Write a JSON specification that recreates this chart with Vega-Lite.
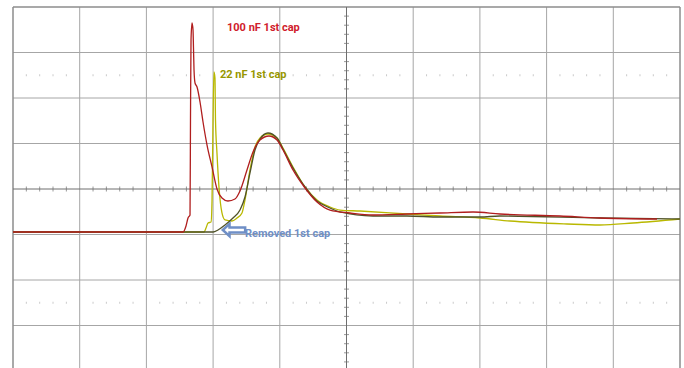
{
  "$schema": "https://vega.github.io/schema/vega-lite/v6.json",
  "width": 667,
  "height": 361,
  "autosize": {"type": "none"},
  "padding": {"left": 13, "top": 7, "right": 4, "bottom": 0},
  "background": "white",
  "config": {"view": {"stroke": null}},
  "datasets": {
    "vgrid": [{"t": 1}, {"t": 2}, {"t": 3}, {"t": 4}, {"t": 6}, {"t": 7}, {"t": 8}, {"t": 9}],
    "hgrid": [{"v": 3}, {"v": 2}, {"v": 1}, {"v": -1}, {"v": -2}, {"v": -3}],
    "xminor": [
      {"t": 0.2}, {"t": 0.4}, {"t": 0.6}, {"t": 0.8}, {"t": 1.2}, {"t": 1.4}, {"t": 1.6}, {"t": 1.8},
      {"t": 2.2}, {"t": 2.4}, {"t": 2.6}, {"t": 2.8}, {"t": 3.2}, {"t": 3.4}, {"t": 3.6}, {"t": 3.8},
      {"t": 4.2}, {"t": 4.4}, {"t": 4.6}, {"t": 4.8}, {"t": 5.2}, {"t": 5.4}, {"t": 5.6}, {"t": 5.8},
      {"t": 6.2}, {"t": 6.4}, {"t": 6.6}, {"t": 6.8}, {"t": 7.2}, {"t": 7.4}, {"t": 7.6}, {"t": 7.8},
      {"t": 8.2}, {"t": 8.4}, {"t": 8.6}, {"t": 8.8}, {"t": 9.2}, {"t": 9.4}, {"t": 9.6}, {"t": 9.8}
    ],
    "yminor": [
      {"v": 3.8}, {"v": 3.6}, {"v": 3.4}, {"v": 3.2}, {"v": 2.8}, {"v": 2.6}, {"v": 2.4}, {"v": 2.2},
      {"v": 1.8}, {"v": 1.6}, {"v": 1.4}, {"v": 1.2}, {"v": 0.8}, {"v": 0.6}, {"v": 0.4}, {"v": 0.2},
      {"v": -0.2}, {"v": -0.4}, {"v": -0.6}, {"v": -0.8}, {"v": -1.2}, {"v": -1.4}, {"v": -1.6}, {"v": -1.8},
      {"v": -2.2}, {"v": -2.4}, {"v": -2.6}, {"v": -2.8}, {"v": -3.2}, {"v": -3.4}, {"v": -3.6}, {"v": -3.8}
    ],
    "labels": [
      {"text": "100 nF 1st cap", "trace": "100 nF", "t": 3.208, "v": 3.538},
      {"text": "22 nF 1st cap", "trace": "22 nF", "t": 3.103, "v": 2.505},
      {"text": "Removed 1st cap", "trace": "removed", "t": 3.478, "v": -0.989}
    ],
    "traces": [
      {"trace": "22 nF", "t": 0, "v": -0.945},
      {"trace": "22 nF", "t": 2.864, "v": -0.945},
      {"trace": "22 nF", "t": 2.894, "v": -0.857},
      {"trace": "22 nF", "t": 2.924, "v": -0.747},
      {"trace": "22 nF", "t": 2.969, "v": -0.725},
      {"trace": "22 nF", "t": 2.984, "v": -0.242},
      {"trace": "22 nF", "t": 2.999, "v": 1.516},
      {"trace": "22 nF", "t": 3.013, "v": 2.571},
      {"trace": "22 nF", "t": 3.028, "v": 2.44},
      {"trace": "22 nF", "t": 3.036, "v": 1.516},
      {"trace": "22 nF", "t": 3.058, "v": 0.791},
      {"trace": "22 nF", "t": 3.088, "v": 0.044},
      {"trace": "22 nF", "t": 3.133, "v": -0.527},
      {"trace": "22 nF", "t": 3.178, "v": -0.681},
      {"trace": "22 nF", "t": 3.283, "v": -0.703},
      {"trace": "22 nF", "t": 3.358, "v": -0.637},
      {"trace": "22 nF", "t": 3.433, "v": -0.527},
      {"trace": "22 nF", "t": 3.478, "v": -0.242},
      {"trace": "22 nF", "t": 3.553, "v": 0.418},
      {"trace": "22 nF", "t": 3.628, "v": 0.923},
      {"trace": "22 nF", "t": 3.703, "v": 1.121},
      {"trace": "22 nF", "t": 3.823, "v": 1.209},
      {"trace": "22 nF", "t": 3.958, "v": 1.121},
      {"trace": "22 nF", "t": 4.048, "v": 0.901},
      {"trace": "22 nF", "t": 4.198, "v": 0.484},
      {"trace": "22 nF", "t": 4.378, "v": 0.044},
      {"trace": "22 nF", "t": 4.558, "v": -0.242},
      {"trace": "22 nF", "t": 4.753, "v": -0.396},
      {"trace": "22 nF", "t": 4.903, "v": -0.462},
      {"trace": "22 nF", "t": 5.202, "v": -0.484},
      {"trace": "22 nF", "t": 5.907, "v": -0.549},
      {"trace": "22 nF", "t": 6.402, "v": -0.593},
      {"trace": "22 nF", "t": 7.001, "v": -0.637},
      {"trace": "22 nF", "t": 7.451, "v": -0.703},
      {"trace": "22 nF", "t": 8.306, "v": -0.769},
      {"trace": "22 nF", "t": 8.801, "v": -0.791},
      {"trace": "22 nF", "t": 9.295, "v": -0.747},
      {"trace": "22 nF", "t": 10, "v": -0.659},

      {"trace": "removed", "t": 0, "v": -0.945},
      {"trace": "removed", "t": 2.999, "v": -0.945},
      {"trace": "removed", "t": 3.073, "v": -0.901},
      {"trace": "removed", "t": 3.178, "v": -0.791},
      {"trace": "removed", "t": 3.298, "v": -0.637},
      {"trace": "removed", "t": 3.403, "v": -0.462},
      {"trace": "removed", "t": 3.478, "v": -0.176},
      {"trace": "removed", "t": 3.553, "v": 0.352},
      {"trace": "removed", "t": 3.628, "v": 0.857},
      {"trace": "removed", "t": 3.703, "v": 1.099},
      {"trace": "removed", "t": 3.823, "v": 1.231},
      {"trace": "removed", "t": 3.958, "v": 1.121},
      {"trace": "removed", "t": 4.048, "v": 0.879},
      {"trace": "removed", "t": 4.198, "v": 0.462},
      {"trace": "removed", "t": 4.378, "v": 0.044},
      {"trace": "removed", "t": 4.558, "v": -0.264},
      {"trace": "removed", "t": 4.753, "v": -0.418},
      {"trace": "removed", "t": 4.903, "v": -0.505},
      {"trace": "removed", "t": 5.397, "v": -0.593},
      {"trace": "removed", "t": 5.907, "v": -0.593},
      {"trace": "removed", "t": 6.402, "v": -0.615},
      {"trace": "removed", "t": 7.001, "v": -0.615},
      {"trace": "removed", "t": 7.301, "v": -0.593},
      {"trace": "removed", "t": 8.801, "v": -0.637},
      {"trace": "removed", "t": 10, "v": -0.659},

      {"trace": "100 nF", "t": 0, "v": -0.945},
      {"trace": "100 nF", "t": 2.549, "v": -0.945},
      {"trace": "100 nF", "t": 2.594, "v": -0.813},
      {"trace": "100 nF", "t": 2.624, "v": -0.637},
      {"trace": "100 nF", "t": 2.654, "v": -0.571},
      {"trace": "100 nF", "t": 2.661, "v": 1.516},
      {"trace": "100 nF", "t": 2.669, "v": 3.275},
      {"trace": "100 nF", "t": 2.684, "v": 3.648},
      {"trace": "100 nF", "t": 2.699, "v": 3.495},
      {"trace": "100 nF", "t": 2.706, "v": 3.099},
      {"trace": "100 nF", "t": 2.714, "v": 2.615},
      {"trace": "100 nF", "t": 2.729, "v": 2.33},
      {"trace": "100 nF", "t": 2.759, "v": 2.242},
      {"trace": "100 nF", "t": 2.804, "v": 1.912},
      {"trace": "100 nF", "t": 2.849, "v": 1.473},
      {"trace": "100 nF", "t": 2.909, "v": 0.967},
      {"trace": "100 nF", "t": 2.984, "v": 0.484},
      {"trace": "100 nF", "t": 3.058, "v": 0},
      {"trace": "100 nF", "t": 3.133, "v": -0.198},
      {"trace": "100 nF", "t": 3.223, "v": -0.264},
      {"trace": "100 nF", "t": 3.328, "v": -0.22},
      {"trace": "100 nF", "t": 3.403, "v": -0.044},
      {"trace": "100 nF", "t": 3.508, "v": 0.418},
      {"trace": "100 nF", "t": 3.598, "v": 0.813},
      {"trace": "100 nF", "t": 3.703, "v": 1.077},
      {"trace": "100 nF", "t": 3.838, "v": 1.165},
      {"trace": "100 nF", "t": 3.958, "v": 1.077},
      {"trace": "100 nF", "t": 4.048, "v": 0.857},
      {"trace": "100 nF", "t": 4.198, "v": 0.418},
      {"trace": "100 nF", "t": 4.378, "v": 0.022},
      {"trace": "100 nF", "t": 4.558, "v": -0.286},
      {"trace": "100 nF", "t": 4.753, "v": -0.462},
      {"trace": "100 nF", "t": 5.052, "v": -0.527},
      {"trace": "100 nF", "t": 5.397, "v": -0.571},
      {"trace": "100 nF", "t": 5.907, "v": -0.549},
      {"trace": "100 nF", "t": 6.402, "v": -0.527},
      {"trace": "100 nF", "t": 6.897, "v": -0.505},
      {"trace": "100 nF", "t": 7.301, "v": -0.549},
      {"trace": "100 nF", "t": 8.201, "v": -0.593},
      {"trace": "100 nF", "t": 8.801, "v": -0.637},
      {"trace": "100 nF", "t": 9.655, "v": -0.659}
    ]
  },
  "encoding": {
    "x": {"type": "quantitative", "scale": {"domain": [0, 10], "nice": false, "zero": false}, "axis": null},
    "y": {"type": "quantitative", "scale": {"domain": [-3.934, 4], "nice": false, "zero": false}, "axis": null}
  },
  "layer": [
    {
      "description": "graticule: inner vertical divisions",
      "data": {"name": "vgrid"},
      "mark": {"type": "rule", "color": "#a6a6a6", "strokeWidth": 1},
      "encoding": {"x": {"field": "t", "type": "quantitative"}}
    },
    {
      "description": "graticule: inner horizontal divisions",
      "data": {"name": "hgrid"},
      "mark": {"type": "rule", "color": "#a6a6a6", "strokeWidth": 1},
      "encoding": {"y": {"field": "v", "type": "quantitative"}}
    },
    {
      "description": "screen frame: left, right and top edges",
      "data": {"values": [{"t": 0}, {"t": 10}]},
      "mark": {"type": "rule", "color": "#8c8c8c", "strokeWidth": 1.5},
      "encoding": {"x": {"field": "t", "type": "quantitative"}}
    },
    {
      "data": {"values": [{"v": 4}]},
      "mark": {"type": "rule", "color": "#8c8c8c", "strokeWidth": 1.5},
      "encoding": {"y": {"field": "v", "type": "quantitative"}}
    },
    {
      "description": "centre cross-hair lines",
      "data": {"values": [{"t": 5}]},
      "mark": {"type": "rule", "color": "#6e6e6e", "strokeWidth": 1},
      "encoding": {"x": {"field": "t", "type": "quantitative"}}
    },
    {
      "data": {"values": [{"v": 0}]},
      "mark": {"type": "rule", "color": "#6e6e6e", "strokeWidth": 1},
      "encoding": {"y": {"field": "v", "type": "quantitative"}}
    },
    {
      "description": "minor ticks along the horizontal centre line",
      "data": {"name": "xminor"},
      "mark": {"type": "tick", "orient": "vertical", "size": 5, "thickness": 1, "color": "#6e6e6e"},
      "encoding": {"x": {"field": "t", "type": "quantitative"}, "y": {"datum": 0}}
    },
    {
      "description": "minor ticks along the vertical centre line",
      "data": {"name": "yminor"},
      "mark": {"type": "tick", "orient": "horizontal", "size": 5, "thickness": 1, "color": "#6e6e6e"},
      "encoding": {"y": {"field": "v", "type": "quantitative"}, "x": {"datum": 5}}
    },
    {
      "description": "dotted marker rows",
      "data": {"name": "xminor"},
      "mark": {"type": "tick", "orient": "vertical", "size": 2, "thickness": 1, "color": "#b4b4b4"},
      "encoding": {"x": {"field": "t", "type": "quantitative"}, "y": {"datum": 2.5}}
    },
    {
      "data": {"name": "xminor"},
      "mark": {"type": "tick", "orient": "vertical", "size": 2, "thickness": 1, "color": "#b4b4b4"},
      "encoding": {"x": {"field": "t", "type": "quantitative"}, "y": {"datum": -2.5}}
    },
    {
      "description": "scope traces",
      "data": {"name": "traces"},
      "mark": {"type": "line", "strokeWidth": 1.3, "interpolate": "monotone"},
      "encoding": {
        "x": {"field": "t", "type": "quantitative"},
        "y": {"field": "v", "type": "quantitative"},
        "color": {
          "field": "trace",
          "type": "nominal",
          "scale": {"domain": ["22 nF", "removed", "100 nF"], "range": ["#b9b800", "#4f5228", "#b01e1e"]},
          "legend": null
        },
        "order": {"field": "t", "type": "quantitative"}
      }
    },
    {
      "description": "hollow arrow pointing at the trace without the first capacitor",
      "data": {"values": [{"t": 3.313, "v": -0.901}]},
      "mark": {
        "type": "point",
        "shape": "M -1 0 L -0.4 -0.55 L -0.4 -0.22 L 1 -0.22 L 1 0.22 L -0.4 0.22 L -0.4 0.55 Z",
        "size": 500,
        "filled": false,
        "stroke": "#6f8fc6",
        "strokeWidth": 2.5,
        "opacity": 1
      },
      "encoding": {"x": {"field": "t", "type": "quantitative"}, "y": {"field": "v", "type": "quantitative"}}
    },
    {
      "description": "trace labels",
      "data": {"name": "labels"},
      "mark": {"type": "text", "align": "left", "baseline": "middle", "font": "Roboto", "fontSize": 11, "fontWeight": "bold"},
      "encoding": {
        "x": {"field": "t", "type": "quantitative"},
        "y": {"field": "v", "type": "quantitative"},
        "text": {"field": "text"},
        "color": {
          "field": "trace",
          "type": "nominal",
          "scale": {"domain": ["22 nF", "removed", "100 nF"], "range": ["#979700", "#6f8fc6", "#d0202c"]},
          "legend": null
        }
      }
    }
  ],
  "resolve": {"scale": {"color": "independent"}}
}
